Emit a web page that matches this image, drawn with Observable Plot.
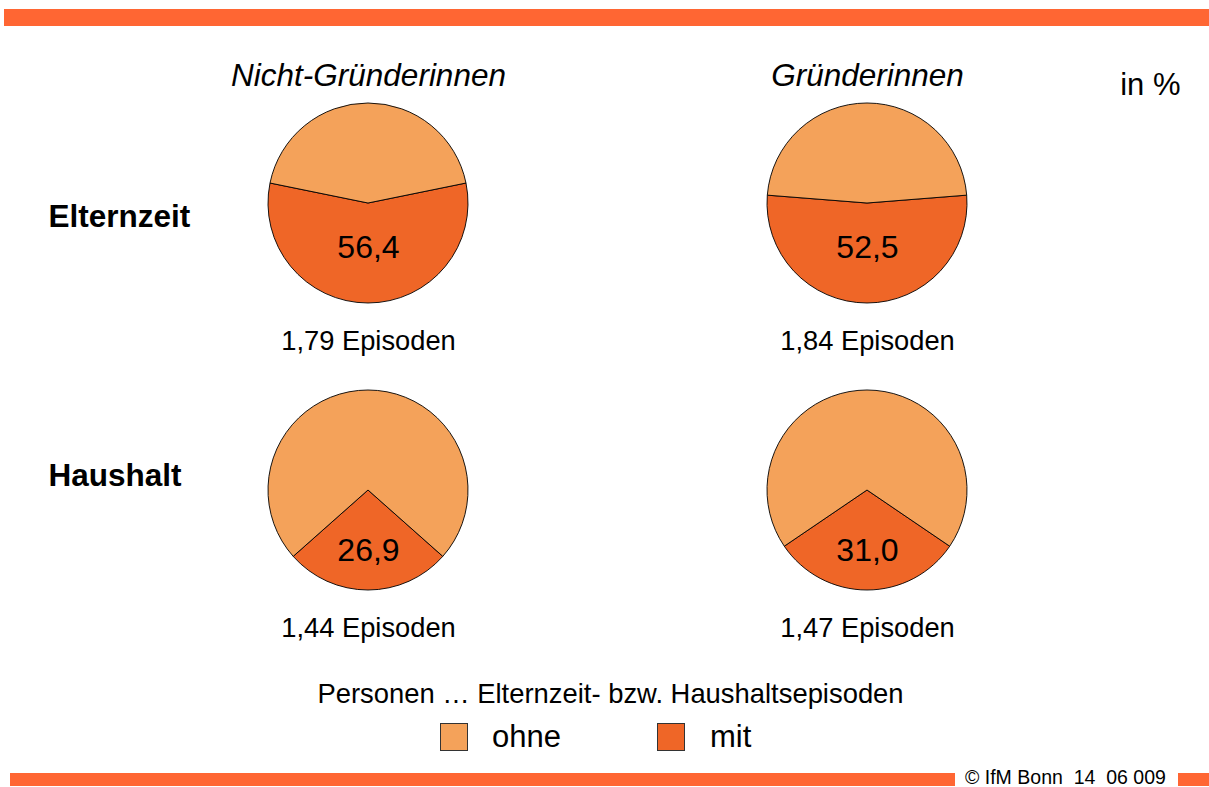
<!DOCTYPE html>
<html>
<head>
<meta charset="utf-8">
<script src="https://cdn.jsdelivr.net/npm/d3@7"></script>
<script src="https://cdn.jsdelivr.net/npm/@observablehq/plot@0.6"></script>
<style>
  html, body { margin: 0; padding: 0; background: #fff; }
  body { width: 1209px; height: 787px; position: relative; overflow: hidden;
         font-family: "Liberation Sans", Arial, sans-serif; color: #000; }
  #chart { position: absolute; left: 0; top: 0; }
  #chart svg { background: transparent !important; }
  .bar { position: absolute; background: #FF6633; z-index: 2; }
  .abs { position: absolute; white-space: pre; z-index: 2; }
  .swatch { position: absolute; width: 28px; height: 28px; box-sizing: border-box;
            border: 1.5px solid #333; z-index: 2; }
</style>
</head>
<body>
<div id="chart"></div>
<script>
// ---- data ----
const columns = ["Nicht-Gründerinnen", "Gründerinnen"];
const rows = ["Elternzeit", "Haushalt"];
const mitElternzeit = [56.4, 52.5];      // % Personen mit Elternzeitepisoden
const mitHaushalt = [26.9, 31.0];        // % Personen mit Haushaltsepisoden
const episodenElternzeit = [1.79, 1.84]; // Episoden je Person
const episodenHaushalt = [1.44, 1.47];
const seriesNames = ["ohne", "mit"];
const seriesColors = ["#F4A25A", "#EF6627"];
const unitLabel = "in %";
const legendTitle = "Personen … Elternzeit- bzw. Haushaltsepisoden";
const sourceLabel = "© IfM Bonn  14  06 009";

// ---- table built from the arrays ----
const mitByRow = [mitElternzeit, mitHaushalt];
const episodenByRow = [episodenElternzeit, episodenHaushalt];
const cells = rows.flatMap((row, i) => columns.map((col, j) => ({
  row, col, mit: mitByRow[i][j], ohne: 100 - mitByRow[i][j], episoden: episodenByRow[i][j]
})));
const fmt1 = v => v.toFixed(1).replace(".", ",");
const fmt2 = v => v.toFixed(2).replace(".", ",");
const color = d3.scaleOrdinal(seriesNames, seriesColors);
const R = 100;

// pies drawn with the plot's x/y scales
function pieMark(index, scales) {
  const g = d3.create("svg:g");
  for (const c of cells) {
    const cx = scales.x(c.col), cy = scales.y(c.row);
    const span = 2 * Math.PI * c.mit / 100;
    const start = Math.PI - span / 2;  // "mit" centred at the bottom
    const arcs = d3.pie().sort(null).value(d => d.v)
      .startAngle(start).endAngle(start + 2 * Math.PI)
      ([{k: "mit", v: c.mit}, {k: "ohne", v: c.ohne}]);
    const arc = d3.arc().innerRadius(0).outerRadius(R);
    g.append("g").attr("transform", `translate(${cx},${cy})`)
      .selectAll("path").data(arcs).join("path")
      .attr("d", arc)
      .attr("fill", d => color(d.data.k))
      .attr("stroke", "#000")
      .attr("stroke-width", 0.9)
      .attr("stroke-linejoin", "round");
  }
  return g.node();
}

const font = "Liberation Sans, Arial, sans-serif";
const chart = Plot.plot({
  width: 1209,
  height: 670,
  margin: 0,
  style: {fontFamily: font, background: "transparent", overflow: "visible"},
  x: {type: "point", domain: columns, range: [368, 867], padding: 0, axis: null},
  y: {type: "point", domain: rows, range: [203, 490], padding: 0, axis: null},
  marks: [
    pieMark,
    // value labels
    Plot.text(cells.filter(c => c.row === rows[0]), {x: "col", y: "row", text: d => fmt1(d.mit), dy: 44, fontSize: 32, fill: "#000"}),
    Plot.text(cells.filter(c => c.row === rows[1]), {x: "col", y: "row", text: d => fmt1(d.mit), dy: 60, fontSize: 32, fill: "#000"}),
    // episodes
    Plot.text(cells, {x: "col", y: "row", text: d => `${fmt2(d.episoden)} Episoden`, dy: 138, fontSize: 27.3, fill: "#000"}),
    // column titles
    Plot.text(columns, {x: d => d, y: () => rows[0], text: d => d, dy: -128, fontSize: 31.5, fontStyle: "italic", fill: "#000"}),
    // row labels
    Plot.text([rows[0]], {y: d => d, text: d => d, frameAnchor: "left", textAnchor: "start", dx: 48, dy: 13, fontSize: 31.5, fontWeight: "bold", fill: "#000"}),
    Plot.text([rows[1]], {y: d => d, text: d => d, frameAnchor: "left", textAnchor: "start", dx: 48, dy: -15, fontSize: 31.5, fontWeight: "bold", fill: "#000"}),
    // unit
    Plot.text([unitLabel], {y: () => rows[0], text: d => d, frameAnchor: "right", textAnchor: "end", dx: -29, dy: -118, fontSize: 31, fill: "#000"})
  ]
});
document.getElementById("chart").appendChild(chart);

// ---- decorations, legend and source (HTML) ----
function add(html) { document.body.insertAdjacentHTML("beforeend", html); }
add(`<div class="bar" style="left:4px;top:9px;width:1205px;height:17px"></div>`);
add(`<div class="abs" style="left:0;width:1221px;top:680px;text-align:center;font-size:27.4px;line-height:27px">${legendTitle}</div>`);
const legendX = [[440, 492], [657, 710]];
seriesNames.forEach((s, i) => {
  add(`<div class="swatch" style="left:${legendX[i][0]}px;top:723px;background:${seriesColors[i]}"></div>`);
  add(`<div class="abs" style="left:${legendX[i][1]}px;top:722px;font-size:31px;line-height:30px">${s}</div>`);
});
add(`<div class="bar" style="left:10px;top:773px;width:945px;height:13px"></div>`);
add(`<div class="bar" style="left:1178px;top:773px;width:31px;height:13px"></div>`);
add(`<div class="abs" style="left:965px;top:768px;font-size:19.5px;line-height:19px">${sourceLabel}</div>`);
</script>
</body>
</html>
